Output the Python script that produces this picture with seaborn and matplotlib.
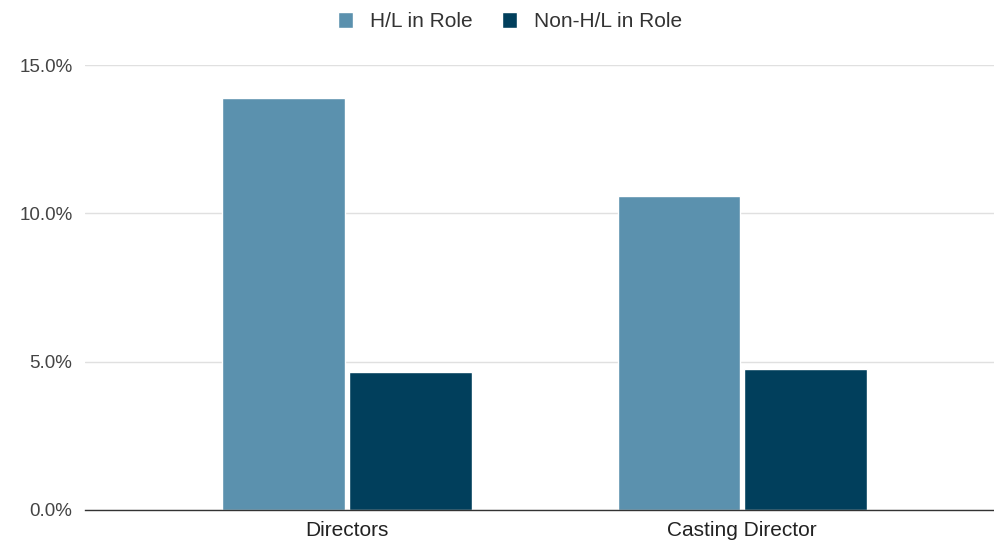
import pandas as pd
import matplotlib.pyplot as plt
import seaborn as sns
from matplotlib.ticker import FuncFormatter

# datos
roles = ["Directors", "Casting Director"]
hl_in_role = [13.9, 10.6]
non_hl_in_role = [4.65, 4.75]
series = ["H/L in Role", "Non-H/L in Role"]
colores = ["#5b91ae", "#013f5c"]

df = pd.DataFrame({
    "rol": roles * 2,
    "valor": hl_in_role + non_hl_in_role,
    "serie": [series[0]] * len(roles) + [series[1]] * len(roles),
})

sns.set_style("white")
plt.rcParams["font.family"] = ["Liberation Sans", "DejaVu Sans"]

fig = plt.figure(figsize=(9.95, 5.4), dpi=100)
ax = fig.add_axes([85 / 995, 1 - 510 / 540, 910 / 995, 445 / 540])

sns.barplot(data=df, x="rol", y="valor", hue="serie", palette=colores,
            width=0.64, gap=0.03, ax=ax, saturation=1, legend=True)

ax.set_ylim(0, 15)
ax.set_xlim(-0.663, 1.64)
ax.set_yticks([0, 5, 10, 15])
ax.yaxis.set_major_formatter(FuncFormatter(lambda v, p: f"{v:.1f}%"))
ax.grid(axis="y", color="#e0e0e0", linewidth=1)
ax.set_axisbelow(True)
for s in ["top", "right", "left"]:
    ax.spines[s].set_visible(False)
ax.spines["bottom"].set_color("#333333")
ax.spines["bottom"].set_linewidth(1)
ax.tick_params(axis="y", length=0, pad=9, labelsize=13.5, labelcolor="#444444")
ax.tick_params(axis="x", length=0, pad=8, labelsize=15, labelcolor="#222222")
ax.set_xlabel("")
ax.set_ylabel("")

ax.legend(loc="center", bbox_to_anchor=(0.467, 1.097), ncol=2, frameon=False,
          fontsize=15, handlelength=0.75, handleheight=0.75, handletextpad=0.8,
          columnspacing=1.4, labelcolor="#333333")

fig.savefig("out.png", dpi=100)
